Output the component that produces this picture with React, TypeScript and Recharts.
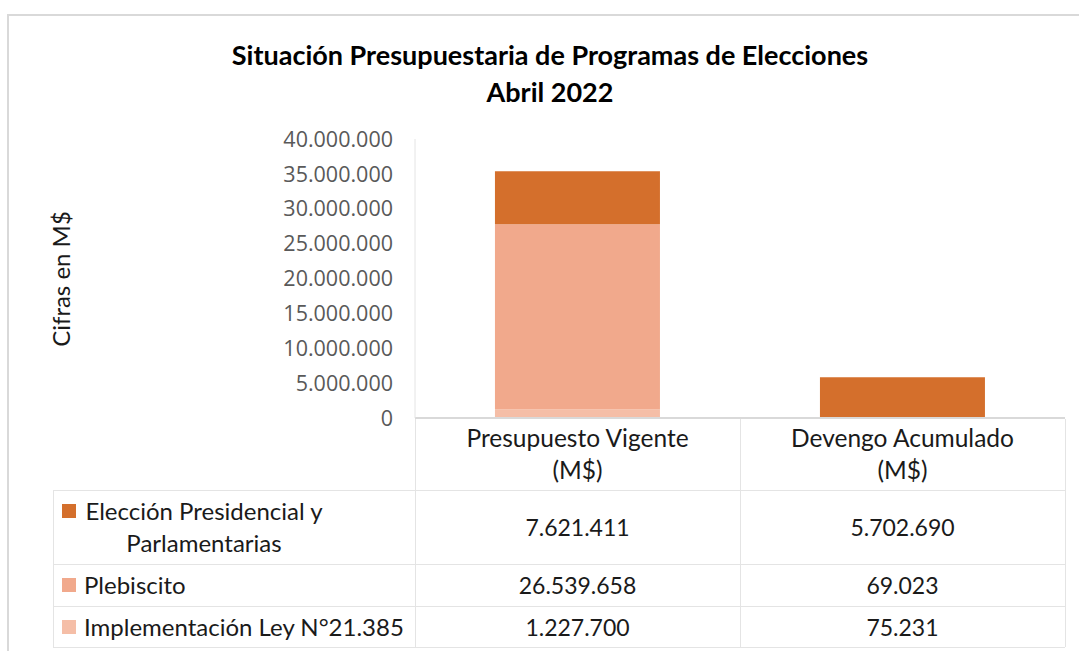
import React from 'react';
import { BarChart, Bar, XAxis, YAxis, Label } from 'recharts';

const categories = ['Presupuesto Vigente\n(M$)', 'Devengo Acumulado\n(M$)'];
const eleccion = [7621411, 5702690];
const plebiscito = [26539658, 69023];
const leyImpl = [1227700, 75231];
const seriesNames = ['Elección Presidencial y Parlamentarias', 'Plebiscito', 'Implementación Ley N°21.385'];
const yTicks = [0, 5000000, 10000000, 15000000, 20000000, 25000000, 30000000, 35000000, 40000000];

const COLORS = ['#d46f2c', '#f1a98c', '#f5bea7'];
const FONT = 'Lato, "Open Sans", sans-serif';
const LINE = '#e4e4e4';

const fmt = (n: number) => String(Math.round(n)).replace(/\B(?=(\d{3})+(?!\d))/g, '.');

const data = categories.map((c, i) => ({
    cat: c,
    eleccion: eleccion[i],
    plebiscito: plebiscito[i],
    ley: leyImpl[i],
}));

const rows = [
    { name: seriesNames[0], color: COLORS[0], values: eleccion, top: 490, h: 74 },
    { name: seriesNames[1], color: COLORS[1], values: plebiscito, top: 564, h: 42 },
    { name: seriesNames[2], color: COLORS[2], values: leyImpl, top: 606, h: 41 },
];

function CatTick({ x, y, payload }: any) {
    const lines = String(payload.value).split('\n');
    return (
        <text x={x} y={y} textAnchor="middle" fill="#1a1a1a" fontSize={24.5} fontFamily={FONT}>
            {lines.map((l, i) => (
                <tspan key={i} x={x} dy={i === 0 ? 21 : 32}>{l}</tspan>
            ))}
        </text>
    );
}

const PLOT_L = 415;
const PLOT_R = 1065;
const MID = 740;

export default function App() {
    return (
        <div style={{ position: 'absolute', left: 0, top: 0, width: 1079, height: 651, background: '#fff', overflow: 'hidden', fontFamily: FONT }}>
            <div style={{ position: 'absolute', left: 7, top: 14, width: 1100, height: 700, borderLeft: '2px solid #d9d9d9', borderTop: '2px solid #d9d9d9' }} />
            <div style={{ position: 'absolute', left: 0, top: 36, width: 1100, textAlign: 'center', fontWeight: 700, fontSize: 27, lineHeight: '37px', color: '#000' }}>
                Situación Presupuestaria de Programas de Elecciones<br />Abril 2022
            </div>
            <div style={{ position: 'absolute', left: 0, top: 0 }}>
                <BarChart width={1079} height={651} data={data} margin={{ top: 139, right: 14, bottom: 161, left: 8 }} barCategoryGap="24.6%">
                    <XAxis dataKey="cat" height={72} tick={<CatTick />} tickLine={false} axisLine={{ stroke: '#d9d9d9', strokeWidth: 2 }} interval={0} />
                    <YAxis width={407} domain={[0, 40000000]} ticks={yTicks} tickFormatter={fmt} tick={{ fill: '#595959', fontSize: 21.5, fontFamily: '"Open Sans", sans-serif' }} tickLine={false} axisLine={{ stroke: LINE }} tickMargin={16}>
                        <Label
                            content={() => (
                                <text x={60} y={279} transform="rotate(-90 60 279)" textAnchor="middle" dominantBaseline="central" fontSize={24} fill="#1a1a1a" fontFamily={FONT}>
                                    Cifras en M$
                                </text>
                            )}
                        />
                    </YAxis>
                    <Bar dataKey="ley" stackId="a" fill={COLORS[2]} isAnimationActive={false} />
                    <Bar dataKey="plebiscito" stackId="a" fill={COLORS[1]} isAnimationActive={false} />
                    <Bar dataKey="eleccion" stackId="a" fill={COLORS[0]} isAnimationActive={false} />
                </BarChart>
            </div>
            {/* data table lines */}
            <div style={{ position: 'absolute', left: PLOT_L, top: 419, width: 1, height: 228, background: LINE }} />
            <div style={{ position: 'absolute', left: MID, top: 419, width: 1, height: 228, background: LINE }} />
            <div style={{ position: 'absolute', left: PLOT_R, top: 419, width: 1, height: 228, background: LINE }} />
            <div style={{ position: 'absolute', left: 53, top: 490, width: 1, height: 157, background: LINE }} />
            {[490, 564, 606, 647].map((t) => (
                <div key={t} style={{ position: 'absolute', left: 53, top: t, width: PLOT_R - 53, height: 1, background: LINE }} />
            ))}
            {rows.map((r) => (
                <React.Fragment key={r.name}>
                    <div style={{ position: 'absolute', left: 62, top: r.top + (r.h === 74 ? 14 : r.h / 2 - 7), width: 14, height: 14, background: r.color }} />
                    <div style={{ position: 'absolute', left: 84, top: r.top, width: r.h === 74 ? 240 : 340, height: r.h, display: 'flex', alignItems: 'center', justifyContent: r.h === 74 ? 'center' : 'flex-start', textAlign: 'center', fontSize: 24, lineHeight: '32px', color: '#1a1a1a', whiteSpace: r.h === 74 ? 'normal' : 'nowrap' }}>
                        {r.name}
                    </div>
                    {r.values.map((v, i) => (
                        <div key={i} style={{ position: 'absolute', left: i === 0 ? PLOT_L : MID, top: r.top, width: 325, height: r.h, display: 'flex', alignItems: 'center', justifyContent: 'center', fontSize: 23, color: '#1a1a1a' }}>
                            {fmt(v)}
                        </div>
                    ))}
                </React.Fragment>
            ))}
        </div>
    );
}
